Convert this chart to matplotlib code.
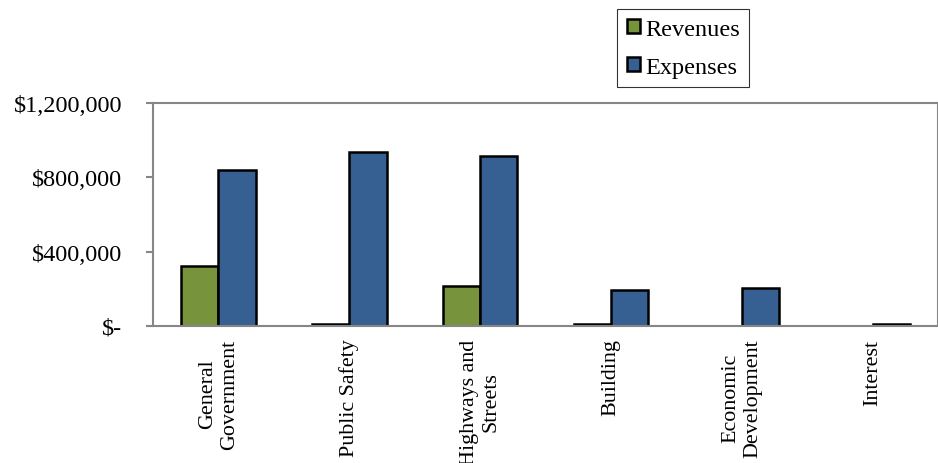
import numpy as np
import matplotlib
matplotlib.use("Agg")
import matplotlib.pyplot as plt
from matplotlib.ticker import FuncFormatter

plt.rcParams['font.family'] = ['Liberation Serif', 'DejaVu Serif']

categories = ["General\nGovernment", "Public Safety", "Highways and\nStreets",
              "Building", "Economic\nDevelopment", "Interest"]
revenues = [323000, 9000, 215000, 9000, 0, 0]
expenses = [840000, 935000, 915000, 195000, 205000, 9000]

green = "#77933C"
blue = "#376092"

fig = plt.figure(figsize=(9.38, 4.64), dpi=100)
ax = fig.add_axes([153/938, 1-327/464, 785/938, 223/464])

x = np.arange(len(categories))
w = 0.285
# skip zero-valued bars so no edge line is drawn for them
for i in range(len(categories)):
    if revenues[i] > 0:
        ax.bar(x[i] - w/2, revenues[i], w, color=green, edgecolor="black", linewidth=1.8)
    if expenses[i] > 0:
        ax.bar(x[i] + w/2, expenses[i], w, color=blue, edgecolor="black", linewidth=1.8)

ax.set_xlim(-0.5, len(categories) - 0.5)
ax.set_ylim(0, 1200000)
ax.set_yticks([0, 400000, 800000, 1200000])

def money(v, pos):
    if v == 0:
        return "$-"
    return "${:,.0f}".format(v)

ax.yaxis.set_major_formatter(FuncFormatter(money))
ax.set_xticks(x)
ax.set_xticklabels(categories, rotation=90, va="top", ha="center")
ax.tick_params(axis="x", length=0, pad=9, labelsize=15.8)
ax.tick_params(axis="y", length=5, width=1.5, color="#868686", pad=17, labelsize=17.5)
for s in ax.spines.values():
    s.set_color("#868686")
    s.set_linewidth(1.5)

handles = [plt.Rectangle((0, 0), 1, 1, facecolor=green, edgecolor="black", linewidth=1.8),
           plt.Rectangle((0, 0), 1, 1, facecolor=blue, edgecolor="black", linewidth=1.8)]
leg = fig.legend(handles, ["Revenues", "Expenses"], loc="upper left",
                 bbox_to_anchor=(617/938, 1-10/464), borderaxespad=0,
                 fontsize=17.5, frameon=True, fancybox=False, edgecolor="black",
                 handlelength=0.55, handleheight=0.55, handletextpad=0.2,
                 labelspacing=0.7, borderpad=0.4)
leg.get_frame().set_linewidth(0.8)

fig.savefig("out.png", dpi=100)
